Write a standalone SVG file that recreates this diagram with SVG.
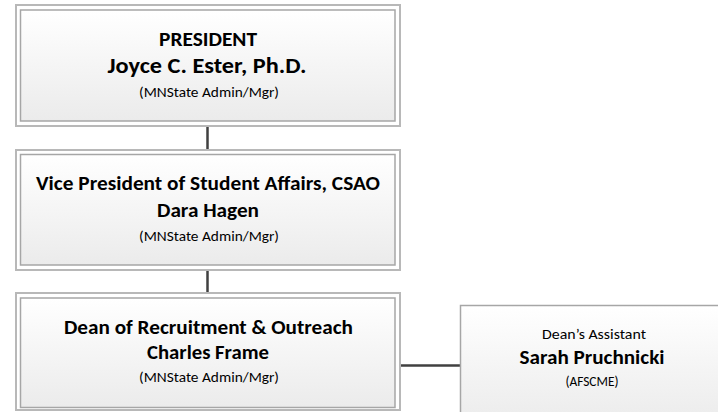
<svg xmlns="http://www.w3.org/2000/svg" width="718" height="412" viewBox="0 0 718 412">
  <defs>
    <linearGradient id="fillGrad" x1="0" y1="0" x2="0" y2="1">
      <stop offset="0" stop-color="#ffffff"/>
      <stop offset="1" stop-color="#ebebeb"/>
    </linearGradient>
    <style>
      .outer { fill: #ffffff; stroke: #b8b8b8; stroke-width: 2; }
      .inner { fill: url(#fillGrad); stroke: #a6a6a6; stroke-width: 1.5; }
      .single { fill: url(#fillGrad); stroke: #a6a6a6; stroke-width: 1.5; }
      .conn { stroke: #404040; stroke-width: 2.5; fill: none; }
      text { font-family: Carlito, Calibri, Lato, "Open Sans", sans-serif; fill: #000000; text-anchor: middle; }
      .title { font-weight: bold; font-size: 19.8px; }
      .big { font-weight: bold; font-size: 22.8px; }
      .small { font-size: 14.5px; }
      .sm2 { font-size: 15px; }
    </style>
  </defs>
  <rect width="718" height="412" fill="#ffffff"/>

  <g id="connectors">
    <line class="conn" x1="207.5" y1="126" x2="207.5" y2="150"/>
    <line class="conn" x1="207.5" y1="270" x2="207.5" y2="293"/>
    <line class="conn" x1="400" y1="365.5" x2="460" y2="365.5"/>
  </g>

  <g id="president">
    <rect class="outer" x="16" y="5" width="384" height="121"/>
    <rect class="inner" x="20.5" y="10" width="374.5" height="111"/>
    <text class="title" x="208" y="46" textLength="98" lengthAdjust="spacingAndGlyphs">PRESIDENT</text>
    <text class="big" x="207" y="73" textLength="199" lengthAdjust="spacingAndGlyphs">Joyce C. Ester, Ph.D.</text>
    <text class="small" x="209" y="97" textLength="140" lengthAdjust="spacingAndGlyphs">(MNState Admin/Mgr)</text>
  </g>

  <g id="vp">
    <rect class="outer" x="16" y="150" width="384" height="120"/>
    <rect class="inner" x="20.5" y="154.5" width="374.5" height="110.5"/>
    <text class="title" x="208" y="190" textLength="344" lengthAdjust="spacingAndGlyphs">Vice President of Student Affairs, CSAO</text>
    <text class="title" x="208" y="216.5" textLength="102" lengthAdjust="spacingAndGlyphs">Dara Hagen</text>
    <text class="small" x="209" y="240.5" textLength="140" lengthAdjust="spacingAndGlyphs">(MNState Admin/Mgr)</text>
  </g>

  <g id="dean">
    <rect class="outer" x="16" y="293" width="384" height="117"/>
    <rect class="inner" x="20.5" y="298" width="374.5" height="109.5"/>
    <text class="title" x="208.5" y="334" textLength="289" lengthAdjust="spacingAndGlyphs">Dean of Recruitment &amp; Outreach</text>
    <text class="title" x="208" y="359" textLength="122" lengthAdjust="spacingAndGlyphs">Charles Frame</text>
    <text class="small" x="209" y="381.5" textLength="140" lengthAdjust="spacingAndGlyphs">(MNState Admin/Mgr)</text>
  </g>

  <g id="assistant">
    <rect class="single" x="460.5" y="305.5" width="300" height="120"/>
    <text class="sm2" x="594" y="338.5" textLength="104" lengthAdjust="spacingAndGlyphs">Dean’s Assistant</text>
    <text class="title" x="592" y="363.5" textLength="145" lengthAdjust="spacingAndGlyphs">Sarah Pruchnicki</text>
    <text class="small" x="592" y="385.5" textLength="53" lengthAdjust="spacingAndGlyphs">(AFSCME)</text>
  </g>
</svg>
